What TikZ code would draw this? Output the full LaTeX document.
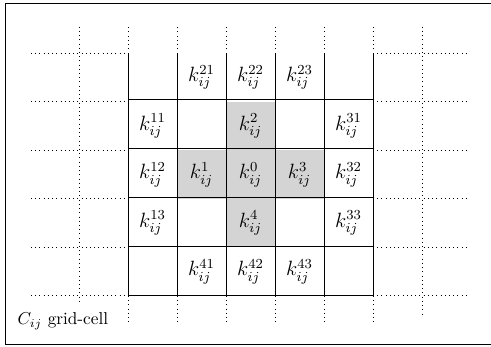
\documentclass[tikz,border=0pt]{standalone}
\begin{document}
\begin{tikzpicture}[x=1cm,y=0.99cm,
  gridline/.style={line width=0.5pt,black},
  dotline/.style={dotted,line width=0.45pt},
  shade/.style={fill=black!17},
  lbl/.style={inner sep=0pt,font=\fontsize{11.5}{13}\selectfont}]
\useasboundingbox (-2.612,-1.052) rectangle (7.408,6.099);
% outer frame (right side falls outside the picture)
\coordinate (fa) at (7.6,6.037);
\coordinate (fb) at (-2.504,6.037);
\coordinate (fc) at (-2.504,-1.01);
\coordinate (fd) at (7.6,-1.01);
\draw[gridline] (fa) -- (fb) -- (fc) -- (fd);
% shaded cells
\fill[shade] (2,3) rectangle (3,4);
\fill[shade] (1,2) rectangle (4,3);
\fill[shade] (2,1) rectangle (3,2);
% dotted extensions
\foreach \y in {0,...,5}{
  \draw[dotline] (-1.98,\y) -- (0,\y);
  \draw[dotline] (5,\y) -- (6.92,\y);
}
\foreach \x in {0,...,5}{
  \draw[dotline] (\x,5) -- (\x,5.55);
  \draw[dotline] (\x,0) -- (\x,-0.56);
}
\draw[dotline] (-1,5.55) -- (-1,-0.18);
\draw[dotline] (6,5.55) -- (6,-0.4);
% grid
\draw[gridline] (0,0) grid (5,5);
% labels
\foreach \x/\y/\t in {1/4/21,2/4/22,3/4/23,
  0/3/11,2/3/2,4/3/31,
  0/2/12,1/2/1,2/2/0,3/2/3,4/2/32,
  0/1/13,2/1/4,4/1/33,
  1/0/41,2/0/42,3/0/43}{
  \node[lbl] (k\x\y) at (\x+0.5,\y+0.5) {$k_{ij}^{\t}$};
}
\node[anchor=base west,inner sep=0pt] (cap) at (-2.26,-0.6) {$C_{ij}$ grid-cell};
\end{tikzpicture}
\end{document}
